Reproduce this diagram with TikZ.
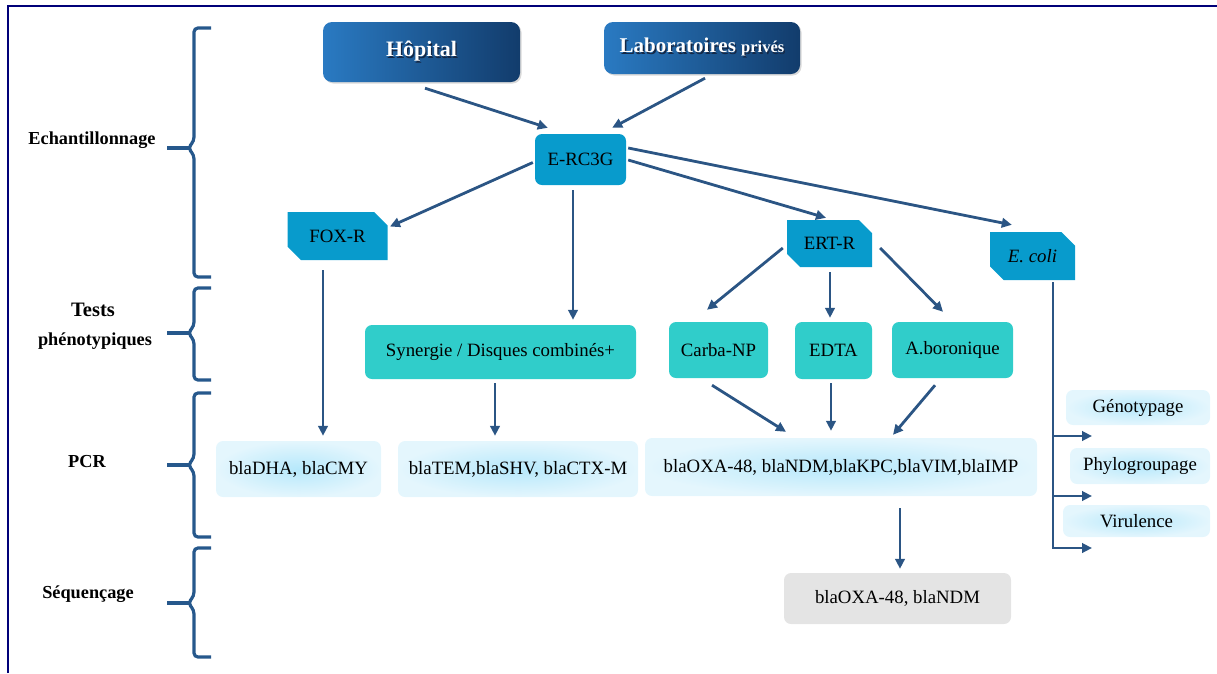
\documentclass[tikz,border=0pt]{standalone}
\usepackage{fontspec}
\setmainfont{Liberation Serif}
\usetikzlibrary{shapes.misc,arrows.meta,shadows,calc}
\definecolor{arrblue}{RGB}{43,85,132}
\definecolor{brblue}{RGB}{38,88,140}
\definecolor{cyanbox}{RGB}{8,155,204}
\definecolor{tealbox}{RGB}{48,205,202}
\definecolor{lbin}{RGB}{182,232,251}
\definecolor{lbout}{RGB}{228,246,253}
\definecolor{grbox}{RGB}{228,228,228}
\definecolor{hopl}{RGB}{42,122,194}
\definecolor{hopr}{RGB}{18,60,108}
\definecolor{framecol}{RGB}{0,0,120}
\definecolor{txtshadow}{RGB}{20,40,70}
\newcommand\mybrace[3]{%
  \draw[brace] (211,#1) -- (194,#1) -- (194,#3-7) -- (188,#3) -- (194,#3+7) -- (194,#2) -- (211,#2);
  \draw[brace] (167,#3) -- (190,#3);}
\newcommand\shtxt[1]{\leavevmode\rlap{\kern1.3pt\raisebox{-1.3pt}{\textcolor{txtshadow}{#1}}}#1}
\begin{document}
\begin{tikzpicture}[x=1pt,y=-1pt,
  boxtxt/.style={font=\fontsize{18.8}{22}\selectfont, text=black, inner sep=0pt},
  topbox/.style={rounded corners=9pt, left color=hopl, right color=hopr, text=white,
     inner sep=0pt, drop shadow={opacity=0.3, shadow xshift=1.5pt, shadow yshift=-1.5pt}},
  cbox/.style={boxtxt, fill=cyanbox, rounded corners=7pt},
  snip/.style={boxtxt, chamfered rectangle, chamfered rectangle corners={north east,south west},
     chamfered rectangle xsep=7pt, chamfered rectangle ysep=7pt, fill=cyanbox},
  tbox/.style={boxtxt, fill=tealbox, rounded corners=7pt},
  lbox/.style={boxtxt, rounded corners=7pt, inner color=lbin, outer color=lbout},
  gbox/.style={boxtxt, rounded corners=7pt, fill=grbox},
  lab/.style={font=\bfseries\fontsize{18.3}{21}\selectfont, inner sep=0pt},
  brace/.style={draw=brblue, line width=3.2pt, rounded corners=4pt},
  arr/.style={draw=arrblue, line width=2.8pt, -{Triangle[length=10pt,width=9.5pt]}},
  ln/.style={draw=arrblue, line width=2.8pt}]
\useasboundingbox (0,0) rectangle (1217,673);
\draw[framecol, line width=2.5pt] (8,673) -- (8,6) -- (1217,6);

% braces and labels
\mybrace{28}{277}{148}
\mybrace{288}{380}{333}
\mybrace{393}{537}{465}
\mybrace{548}{657}{603}
\node[lab] (l1) at (92,140) {Echantillonnage};
\node[lab, font=\bfseries\fontsize{20.5}{24}\selectfont] (l2a) at (93,310) {Tests};
\node[lab] (l2b) at (95,341) {phénotypiques};
\node[lab] (l3) at (87,462) {PCR};
\node[lab] (l4) at (88,594) {Séquençage};

% top boxes
\node[topbox, minimum width=197pt, minimum height=60pt] (hop) at (421.5,52)
  {\bfseries\fontsize{22}{26}\selectfont\shtxt{Hôpital}};
\node[topbox, minimum width=196pt, minimum height=52pt] (lab) at (702,48)
  {\bfseries\fontsize{21}{25}\selectfont\shtxt{Laboratoires} {\fontsize{16.5}{20}\selectfont\shtxt{privés}}};

\node[cbox, minimum width=91pt, minimum height=51pt] (erc) at (580.5,159.5) {E-RC3G};
\node[snip, minimum width=100pt, minimum height=48pt] (fox) at (337.5,236) {FOX-R};
\node[snip, minimum width=85pt, minimum height=47pt] (ert) at (829.5,243.5) {ERT-R};
\node[snip, minimum width=85pt, minimum height=48pt] (eco) at (1032.5,256) {\itshape E. coli};

\node[tbox, minimum width=271pt, minimum height=54pt] (syn) at (500.5,352) {Synergie / Disques combinés+};
\node[tbox, minimum width=99pt, minimum height=56pt] (cnp) at (718.5,350) {Carba-NP};
\node[tbox, minimum width=77pt, minimum height=57pt] (edta) at (833.5,350.5) {EDTA};
\node[tbox, minimum width=121pt, minimum height=56pt] (bor) at (952.5,350) {A.boronique};

\node[lbox, minimum width=165pt, minimum height=56pt] (dha) at (298.5,469) {blaDHA, blaCMY};
\node[lbox, minimum width=240pt, minimum height=56pt] (tem) at (518,469) {blaTEM,blaSHV, blaCTX-M};
\node[lbox, minimum width=392pt, minimum height=58pt] (oxa) at (841,467) {blaOXA-48, blaNDM,blaKPC,blaVIM,blaIMP};
\node[lbox, minimum width=144pt, minimum height=35pt] (geno) at (1138,407.5) {Génotypage};
\node[lbox, minimum width=140pt, minimum height=36pt] (phy) at (1140,466) {Phylogroupage};
\node[lbox, minimum width=147pt, minimum height=32pt] (vir) at (1136.5,521) {Virulence};
\node[gbox, minimum width=227pt, minimum height=51pt] (seq) at (897.5,598.5) {blaOXA-48, blaNDM};

% arrows
\draw[arr] ([shift={(3.5,6)}]hop.south) -- ([shift={(13,-6)}]erc.north west);
\draw[arr] ([shift={(3,4)}]lab.south) -- ([shift={(-14,-6)}]erc.north east);
\draw[arr] ([shift={(-2,3)}]erc.west) -- ([shift={(9,8)}]fox.north east);
\coordinate (a1) at ([shift={(-7.5,5)}]erc.south);
\draw[arr, shorten >=5pt] (a1) -- (a1 |- syn.north);
\draw[arr] ([shift={(2,0.5)}]erc.east) -- ([shift={(-3.5,-2)}]ert.north);
\draw[arr] ([shift={(2,-11.5)}]erc.east) -- ([shift={(22,-7)}]eco.north west);
\coordinate (a2) at ([shift={(-14.5,10)}]fox.south);
\draw[arr, shorten >=5pt] (a2) -- (a2 |- dha.north);
\coordinate (a3) at ([shift={(-5.5,4)}]syn.south);
\draw[arr, shorten >=5pt] (a3) -- (a3 |- tem.north);
\draw[arr] ([shift={(-4,4.5)}]ert.west) -- ([shift={(-11.5,-12)}]cnp.north);
\coordinate (a4) at ([shift={(0.5,5)}]ert.south);
\draw[arr, shorten >=4pt] (a4) -- (a4 |- edta.north);
\draw[arr] ([shift={(8,4.5)}]ert.east) -- ([shift={(-9.5,-10)}]bor.north);
\draw[arr] ([shift={(-6.5,7)}]cnp.south) -- ([shift={(-55,-6)}]oxa.north);
\coordinate (a5) at ([shift={(-2.5,4)}]edta.south);
\draw[arr, shorten >=7pt] (a5) -- (a5 |- oxa.north);
\draw[arr] ([shift={(-17.5,7)}]bor.south) -- ([shift={(52,-3)}]oxa.north);
\coordinate (a6) at ([shift={(59,12)}]oxa.south);
\draw[arr, shorten >=4pt] (a6) -- (a6 |- seq.north);

\coordinate (ect) at ([shift={(20.5,2)}]eco.south);
\coordinate (e1) at (1053,436);
\coordinate (f1) at (1092,436);
\coordinate (e2) at (1053,496);
\coordinate (f2) at (1092,496);
\coordinate (f3) at (1092,548);
\draw[arr] (ect) |- (f3);
\draw[arr] (e1) -- (f1);
\draw[arr] (e2) -- (f2);
\end{tikzpicture}
\end{document}
